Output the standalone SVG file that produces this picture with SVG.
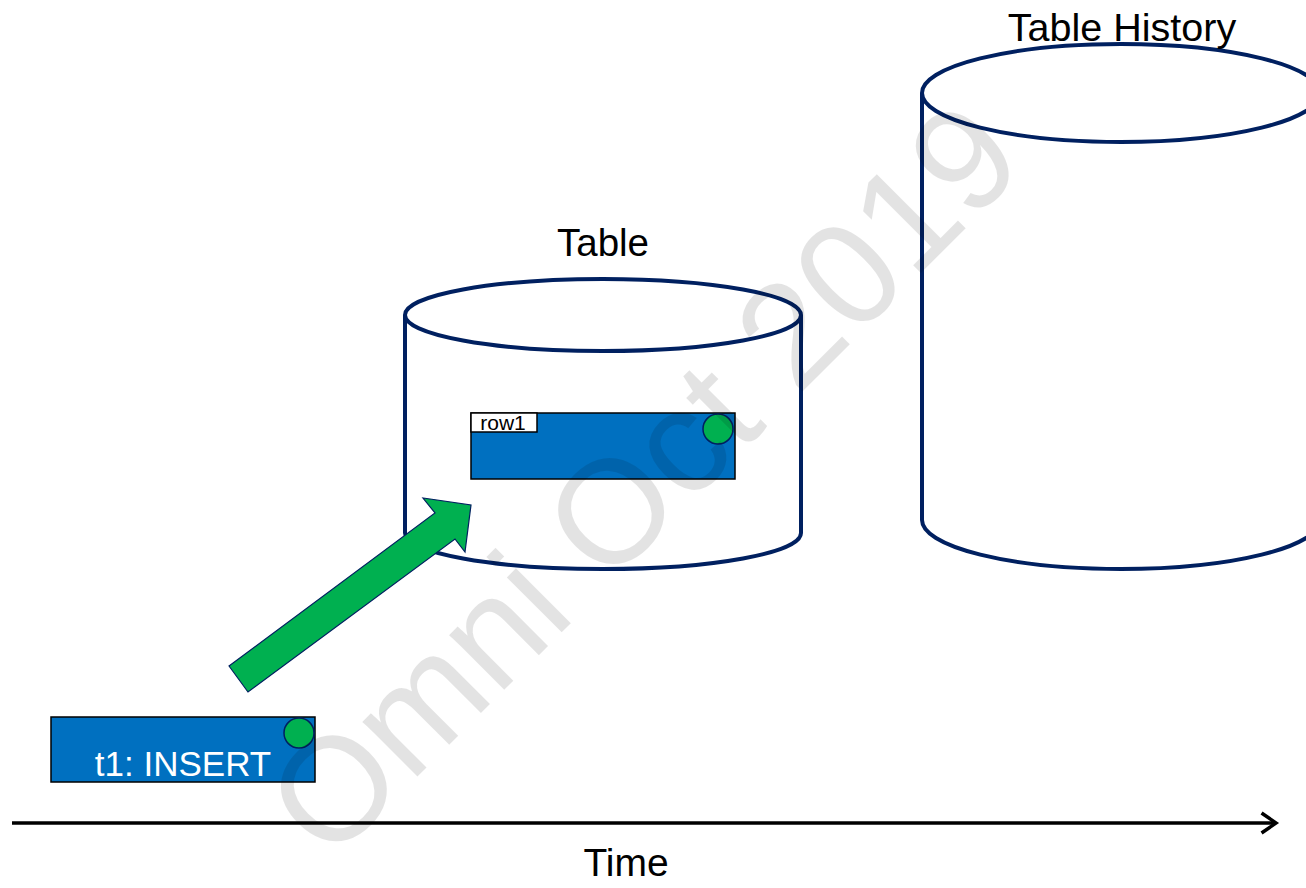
<svg xmlns="http://www.w3.org/2000/svg" width="1306" height="888" viewBox="0 0 1306 888">
  <style>
    .cyl { fill: #ffffff; stroke: #002060; stroke-width: 4; }
    .lbl { font-family: "Liberation Sans", Arial, sans-serif; fill: #000000; text-anchor: middle; }
    .box { fill: #0070C0; stroke: #000000; stroke-width: 1.5; }
    .dot { fill: #00B050; stroke: #002060; stroke-width: 1.5; }
    .mark { font-family: "Liberation Sans", Arial, sans-serif; font-size: 147px; fill: #000000; fill-opacity: 0.11; text-anchor: middle; }
  </style>
  <rect width="1306" height="888" fill="#ffffff"/>

  <!-- Table cylinder -->
  <g id="table">
    <path class="cyl" d="M405,315 L405,533 A198,36 0 0 0 801,533 L801,315"/>
    <ellipse class="cyl" cx="603" cy="315" rx="198" ry="36"/>
    <text class="lbl" x="603" y="256" font-size="38.5">Table</text>
  </g>

  <!-- Table History cylinder -->
  <g id="table-history">
    <path class="cyl" d="M922,93 L922,520 A199,49 0 0 0 1320,520 L1320,93"/>
    <ellipse class="cyl" cx="1121" cy="93" rx="199" ry="49"/>
    <text class="lbl" x="1122" y="41" font-size="39.5">Table History</text>
  </g>

  <!-- row1 record inside the table -->
  <g id="row1">
    <rect class="box" x="471" y="413" width="264" height="66"/>
    <rect x="471" y="413" width="66" height="19" fill="#ffffff" stroke="#000000" stroke-width="1.5"/>
    <text class="lbl" x="503" y="430" font-size="21">row1</text>
    <circle class="dot" cx="718" cy="429" r="15"/>
  </g>

  <!-- t1 insert transaction -->
  <g id="t1-insert">
    <rect class="box" x="51" y="717" width="264" height="65"/>
    <text class="lbl" x="183" y="776" font-size="35" style="fill:#ffffff">t1: INSERT</text>
    <circle class="dot" cx="299" cy="733" r="15"/>
  </g>

  <!-- connectors -->
  <g id="connectors">
    <polygon points="229,666 435,513 423,498 471,505 465,552 455,539 248,692" fill="#00B050" stroke="#002060" stroke-width="1.2" stroke-linejoin="miter"/>
    <line x1="12" y1="823" x2="1275" y2="823" stroke="#000000" stroke-width="3.5"/>
    <polyline points="1263,814 1276,823 1263,832" fill="none" stroke="#000000" stroke-width="3.5" stroke-linecap="square"/>
    <text class="lbl" x="626" y="876" font-size="39">Time</text>
  </g>

  <!-- watermark -->
  <text class="mark" x="679" y="515" transform="rotate(-45 679 515)">Omni Oct 2019</text>
</svg>
